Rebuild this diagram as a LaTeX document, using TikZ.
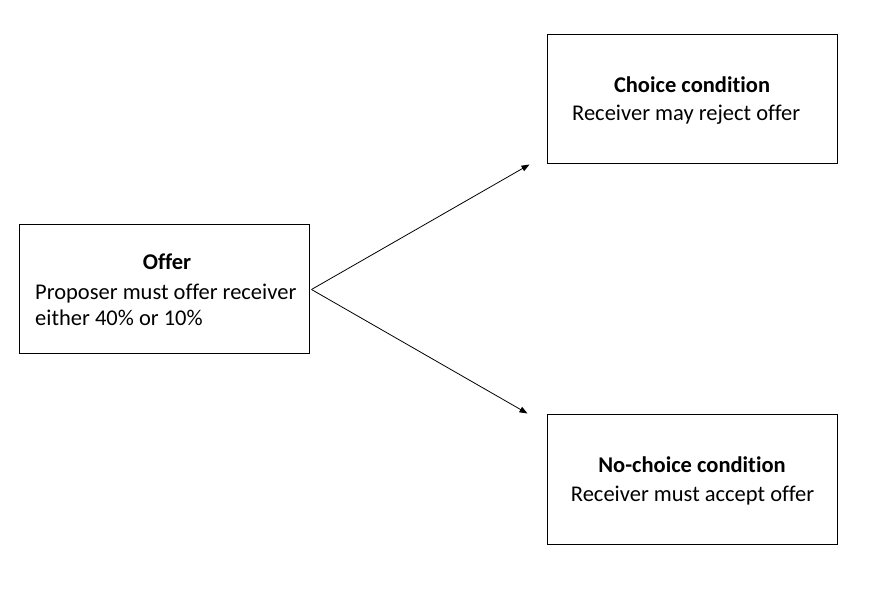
\documentclass[tikz,border=0pt]{standalone}
\usepackage{fontspec}
\setmainfont[Ligatures=CommonOff]{Carlito}
\usetikzlibrary{arrows.meta}
\begin{document}
\begin{tikzpicture}[x=1pt,y=1pt,
  box/.style={draw=black,line width=1pt,minimum width=290pt,minimum height=129pt,inner sep=0pt},
  ttl/.style={font=\fontsize{22.5}{26}\selectfont\bfseries,inner sep=0pt,anchor=base},
  txt/.style={font=\fontsize{22.5}{26}\selectfont,inner sep=0pt},
  conn/.style={draw=black,line width=0.8pt,-{Triangle[length=8pt,width=6pt]}}]
\useasboundingbox (0,0) rectangle (880,589);
\node[box] (offer) at (164,299.5) {};
\node[box] (choice) at (692,489.5) {};
\node[box] (nochoice) at (692,109.5) {};
% texts
\node[ttl] (offert) at (167,319) {Offer};
\node[txt,anchor=base west] (offerb1) at (35,289) {Proposer must offer receiver};
\node[txt,anchor=base west] (offerb2) at (35,263) {either 40\% or 10\%};
\node[ttl] (choicet) at (692,496) {Choice condition};
\node[txt,anchor=base west] (choiceb) at (572,468) {Receiver may reject offer};
\node[ttl] (nochoicet) at (692,116) {No-choice condition};
\node[txt,anchor=base] (nochoiceb) at (692.5,88) {Receiver must accept offer};
% connectors
\draw[conn] ([xshift=2pt]offer.east) -- ([xshift=-17pt]choice.south west);
\draw[conn] ([xshift=2pt]offer.east) -- ([xshift=-19pt,yshift=1pt]nochoice.north west);
\end{tikzpicture}
\end{document}
